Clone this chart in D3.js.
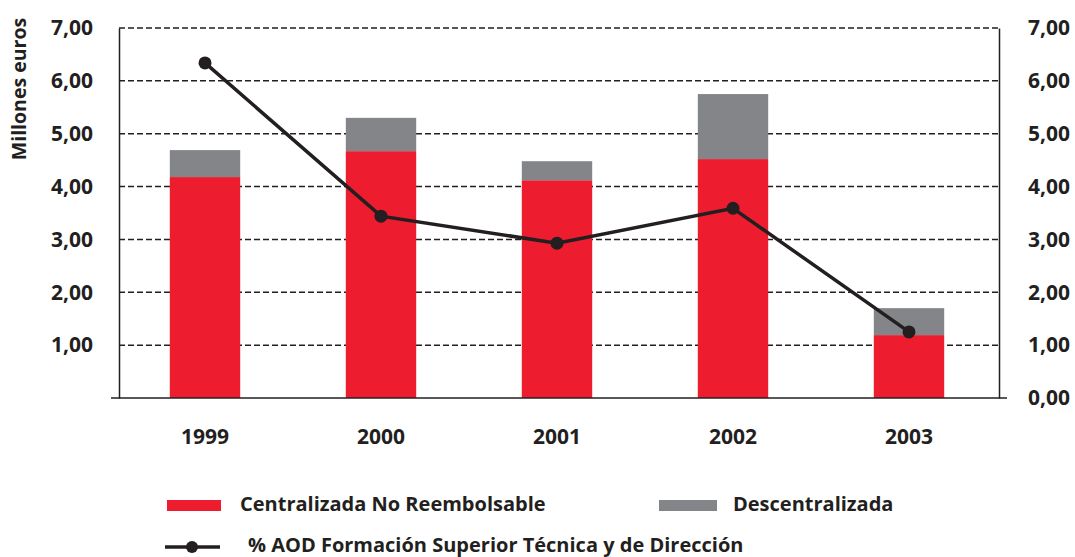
<!DOCTYPE html>
<html>
<head>
<meta charset="utf-8">
<script src="https://cdn.jsdelivr.net/npm/d3@7"></script>
<style>
body{margin:0;background:#fff;}
text{font-family:"Open Sans",sans-serif;font-weight:700;fill:#231f20;}
</style>
</head>
<body>
<div id="chart"></div>
<script>
let years=["1999","2000","2001","2002","2003"];
let centralizada=[4.18,4.67,4.12,4.52,1.19];
let descentralizada=[0.51,0.63,0.36,1.23,0.51];
let porcentajeAOD=[6.34,3.44,2.93,3.59,1.25];
let ticksLeft=[1,2,3,4,5,6,7];
let ticksRight=[0,1,2,3,4,5,6,7];

let width=1075, height=557;
let plotLeft=119, plotRight=999, plotTop=28, plotBottom=398;
let red="#ed1c2e", grey="#848589", ink="#231f20";
let fmt=d=>d3.format(".2f")(d).replace(".",",");

let svg=d3.select("#chart").append("svg")
.attr("width",width).attr("height",height);

let x=d3.scaleBand().domain(years).range([plotLeft-2,plotRight-2]).paddingInner(0.6).paddingOuter(0.3);
let y=d3.scaleLinear().domain([0,7]).range([plotBottom,plotTop]);

// dashed grid
svg.append("g").selectAll("line")
.data(ticksLeft).enter().append("line")
.attr("x1",plotLeft).attr("x2",plotRight)
.attr("y1",d=>y(d)).attr("y2",d=>y(d))
.attr("stroke",ink).attr("stroke-width",1.5).attr("stroke-dasharray","6,3");

// stacked bars
let stack=years.map((yr,i)=>({yr:yr,a:centralizada[i],b:descentralizada[i]}));
let bars=svg.append("g");
bars.selectAll(".c").data(stack).enter().append("rect").attr("class","c")
.attr("x",d=>x(d.yr)).attr("width",x.bandwidth())
.attr("y",d=>y(d.a)).attr("height",d=>y(0)-y(d.a)).attr("fill",red);
bars.selectAll(".d").data(stack).enter().append("rect").attr("class","d")
.attr("x",d=>x(d.yr)).attr("width",x.bandwidth())
.attr("y",d=>y(d.a+d.b)).attr("height",d=>y(d.a)-y(d.a+d.b)).attr("fill",grey);

// axes
let yAxisL=d3.axisLeft(y).tickValues(ticksLeft).tickFormat(fmt).tickSize(0).tickPadding(26);
let yAxisR=d3.axisRight(y).tickValues(ticksRight).tickFormat(fmt).tickSize(0).tickPadding(29);
let gl=svg.append("g").attr("transform","translate("+plotLeft+",0)").call(yAxisL);
let gr=svg.append("g").attr("transform","translate("+plotRight+",0)").call(yAxisR);
[gl,gr].forEach(g=>{
  g.select(".domain").attr("stroke",ink).attr("stroke-width",1.5);
  g.selectAll("text").attr("font-size",21).attr("font-family","Open Sans").attr("font-weight",700).attr("fill",ink);
});

svg.append("line").attr("x1",111).attr("x2",1007).attr("y1",plotBottom).attr("y2",plotBottom)
.attr("stroke",ink).attr("stroke-width",1.5);

let xAxis=d3.axisBottom(x).tickSize(0).tickPadding(31);
let gx=svg.append("g").attr("transform","translate(0,"+plotBottom+")").call(xAxis);
gx.select(".domain").remove();
gx.selectAll("text").attr("font-size",21).attr("font-family","Open Sans").attr("font-weight",700).attr("fill",ink);

svg.append("text").attr("transform","translate(26,89) rotate(-90)")
.attr("text-anchor","middle").attr("font-size",19.5).text("Millones euros");

// line series
let line=d3.line().x((d,i)=>x(years[i])+x.bandwidth()/2).y(d=>y(d));
svg.append("path").datum(porcentajeAOD).attr("d",line)
.attr("fill","none").attr("stroke",ink).attr("stroke-width",3.5);
svg.selectAll(".dot").data(porcentajeAOD).enter().append("circle").attr("class","dot")
.attr("cx",(d,i)=>x(years[i])+x.bandwidth()/2).attr("cy",d=>y(d)).attr("r",6.5).attr("fill",ink);

// legend
let lg=svg.append("g");
lg.append("rect").attr("x",167).attr("y",500).attr("width",54).attr("height",11).attr("fill",red);
lg.append("text").attr("x",240).attr("y",511).attr("font-size",20).text("Centralizada No Reembolsable");
lg.append("rect").attr("x",659).attr("y",500).attr("width",58).attr("height",11).attr("fill",grey);
lg.append("text").attr("x",733).attr("y",511).attr("font-size",20).text("Descentralizada");
lg.append("line").attr("x1",165).attr("x2",220).attr("y1",547).attr("y2",547).attr("stroke",ink).attr("stroke-width",3.5);
lg.append("circle").attr("cx",192).attr("cy",547).attr("r",6).attr("fill",ink);
lg.append("text").attr("x",248).attr("y",552).attr("font-size",20).text("% AOD Formación Superior Técnica y de Dirección");
</script>
</body>
</html>
